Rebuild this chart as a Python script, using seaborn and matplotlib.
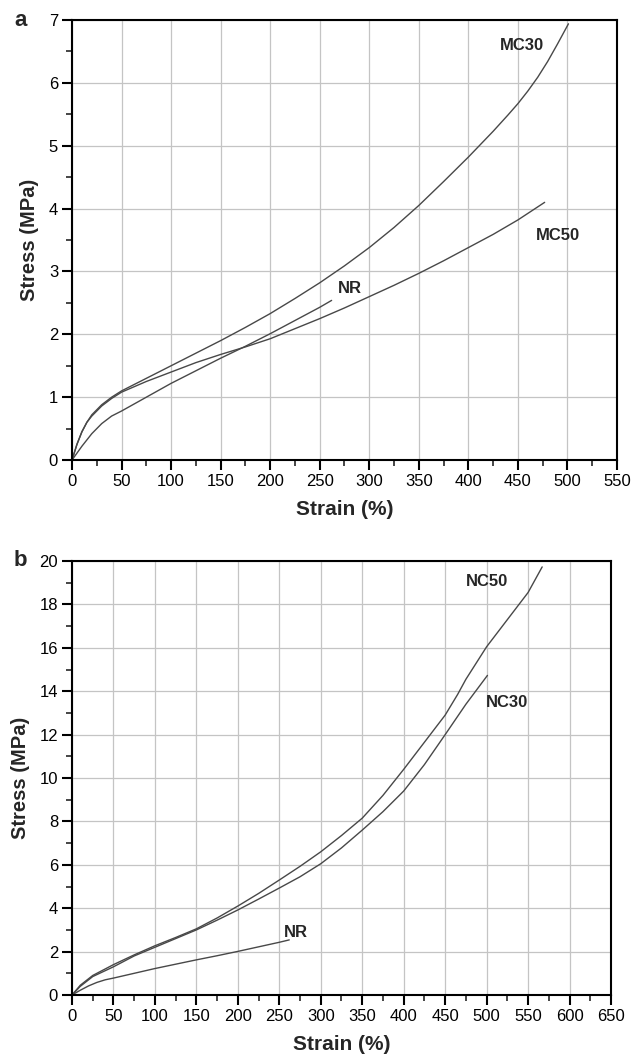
import matplotlib
matplotlib.use("Agg")
import matplotlib.pyplot as plt
from matplotlib.ticker import MultipleLocator
import pandas as pd
import seaborn as sns

sns.set_theme(style="ticks")
plt.rcParams['font.family'] = ['Liberation Sans', 'DejaVu Sans']

# panel a: NR vs microcomposites
nr_strain = [0, 10, 20, 30, 40, 50, 75, 100, 125, 150, 175, 200, 225, 250, 262]
nr_stress = [0, 0.22, 0.42, 0.58, 0.7, 0.78, 1.0, 1.22, 1.42, 1.62, 1.81, 2.01, 2.22, 2.43, 2.54]

mc30_strain = [0, 5, 10, 15, 20, 25, 30, 40, 50, 75, 100, 125, 150, 175, 200, 225, 250, 275,
               300, 325, 350, 375, 400, 425, 440, 450, 460, 470, 480, 490, 501]
mc30_stress = [0, 0.25, 0.45, 0.6, 0.72, 0.8, 0.88, 1.0, 1.1, 1.3, 1.5, 1.7, 1.9, 2.11, 2.33, 2.57, 2.82, 3.09,
               3.38, 3.7, 4.05, 4.43, 4.82, 5.23, 5.49, 5.67, 5.87, 6.09, 6.34, 6.62, 6.94]

mc50_strain = [0, 5, 10, 15, 20, 25, 30, 40, 50, 75, 100, 125, 150, 175, 200, 225, 250, 275,
               300, 325, 350, 375, 400, 425, 450, 477]
mc50_stress = [0, 0.25, 0.45, 0.6, 0.7, 0.78, 0.86, 0.98, 1.08, 1.25, 1.4, 1.55, 1.68, 1.8, 1.93, 2.09, 2.25, 2.42,
               2.6, 2.78, 2.97, 3.17, 3.38, 3.59, 3.82, 4.1]

# panel b: NR vs nanocomposites
nc50_strain = [0, 10, 25, 50, 75, 100, 125, 150, 175, 200, 225, 250, 275, 300, 325, 350, 375,
               400, 425, 450, 465, 475, 500, 525, 550, 567]
nc50_stress = [0, 0.45, 0.9, 1.4, 1.85, 2.27, 2.65, 3.05, 3.55, 4.1, 4.68, 5.3, 5.93, 6.6, 7.35, 8.15, 9.2,
               10.4, 11.65, 12.9, 13.85, 14.55, 16.05, 17.3, 18.55, 19.73]

nc30_strain = [0, 10, 25, 50, 75, 100, 125, 150, 175, 200, 225, 250, 275, 300, 325, 350, 375, 400,
               425, 450, 475, 501]
nc30_stress = [0, 0.4, 0.85, 1.3, 1.8, 2.2, 2.6, 3.0, 3.45, 3.92, 4.42, 4.93, 5.45, 6.05, 6.78, 7.6, 8.45, 9.4,
               10.62, 12.0, 13.4, 14.73]

line_col = "#484848"


def curve(ax, x, y):
    df = pd.DataFrame({"strain": x, "stress": y})
    sns.lineplot(data=df, x="strain", y="stress", ax=ax, sort=False,
                 estimator=None, color=line_col, linewidth=1.0)


def style_axes(ax, xmax, ymax, ystep):
    ax.set_xlim(0, xmax)
    ax.set_ylim(0, ymax)
    ax.xaxis.set_major_locator(MultipleLocator(50))
    ax.xaxis.set_minor_locator(MultipleLocator(25))
    ax.yaxis.set_major_locator(MultipleLocator(ystep))
    ax.yaxis.set_minor_locator(MultipleLocator(ystep / 2))
    ax.grid(True, which="major", color="#c4c4c4", linewidth=0.9)
    ax.set_axisbelow(True)
    for s in ax.spines.values():
        s.set_linewidth(1.5)
        s.set_color("black")
    ax.tick_params(which="major", direction="out", length=7, width=1.5,
                   labelsize=12, colors="black", pad=3)
    ax.tick_params(which="minor", direction="out", length=4, width=1.2)
    ax.set_xlabel("Strain (%)", fontsize=15, fontweight="bold", labelpad=8)
    ax.set_ylabel("Stress (MPa)", fontsize=14.5, fontweight="bold", labelpad=7)


fig = plt.figure(figsize=(6.31, 10.61), dpi=100)
ax1 = fig.add_axes([0.1141, 0.5664, 0.8637, 0.4147])
ax2 = fig.add_axes([0.1141, 0.0622, 0.8542, 0.4090])

curve(ax1, nr_strain, nr_stress)
curve(ax1, mc30_strain, mc30_stress)
curve(ax1, mc50_strain, mc50_stress)
style_axes(ax1, 550, 7, 1)
ax1.text(454, 6.6, "MC30", fontsize=12, fontweight="bold", ha="center", va="center")
ax1.text(490, 3.58, "MC50", fontsize=12, fontweight="bold", ha="center", va="center")
ax1.text(280, 2.73, "NR", fontsize=12, fontweight="bold", ha="center", va="center")

curve(ax2, nr_strain, nr_stress)
curve(ax2, nc30_strain, nc30_stress)
curve(ax2, nc50_strain, nc50_stress)
style_axes(ax2, 650, 20, 2)
ax2.text(501, 19.05, "NC50", fontsize=12, fontweight="bold", ha="center", va="center")
ax2.text(524, 13.5, "NC30", fontsize=12, fontweight="bold", ha="center", va="center")
ax2.text(270, 2.9, "NR", fontsize=12, fontweight="bold", ha="center", va="center")

fig.text(0.032, 0.981, "a", fontsize=16, fontweight="bold", ha="center", va="center")
fig.text(0.032, 0.472, "b", fontsize=16, fontweight="bold", ha="center", va="center")

fig.savefig("out.png", dpi=100)
